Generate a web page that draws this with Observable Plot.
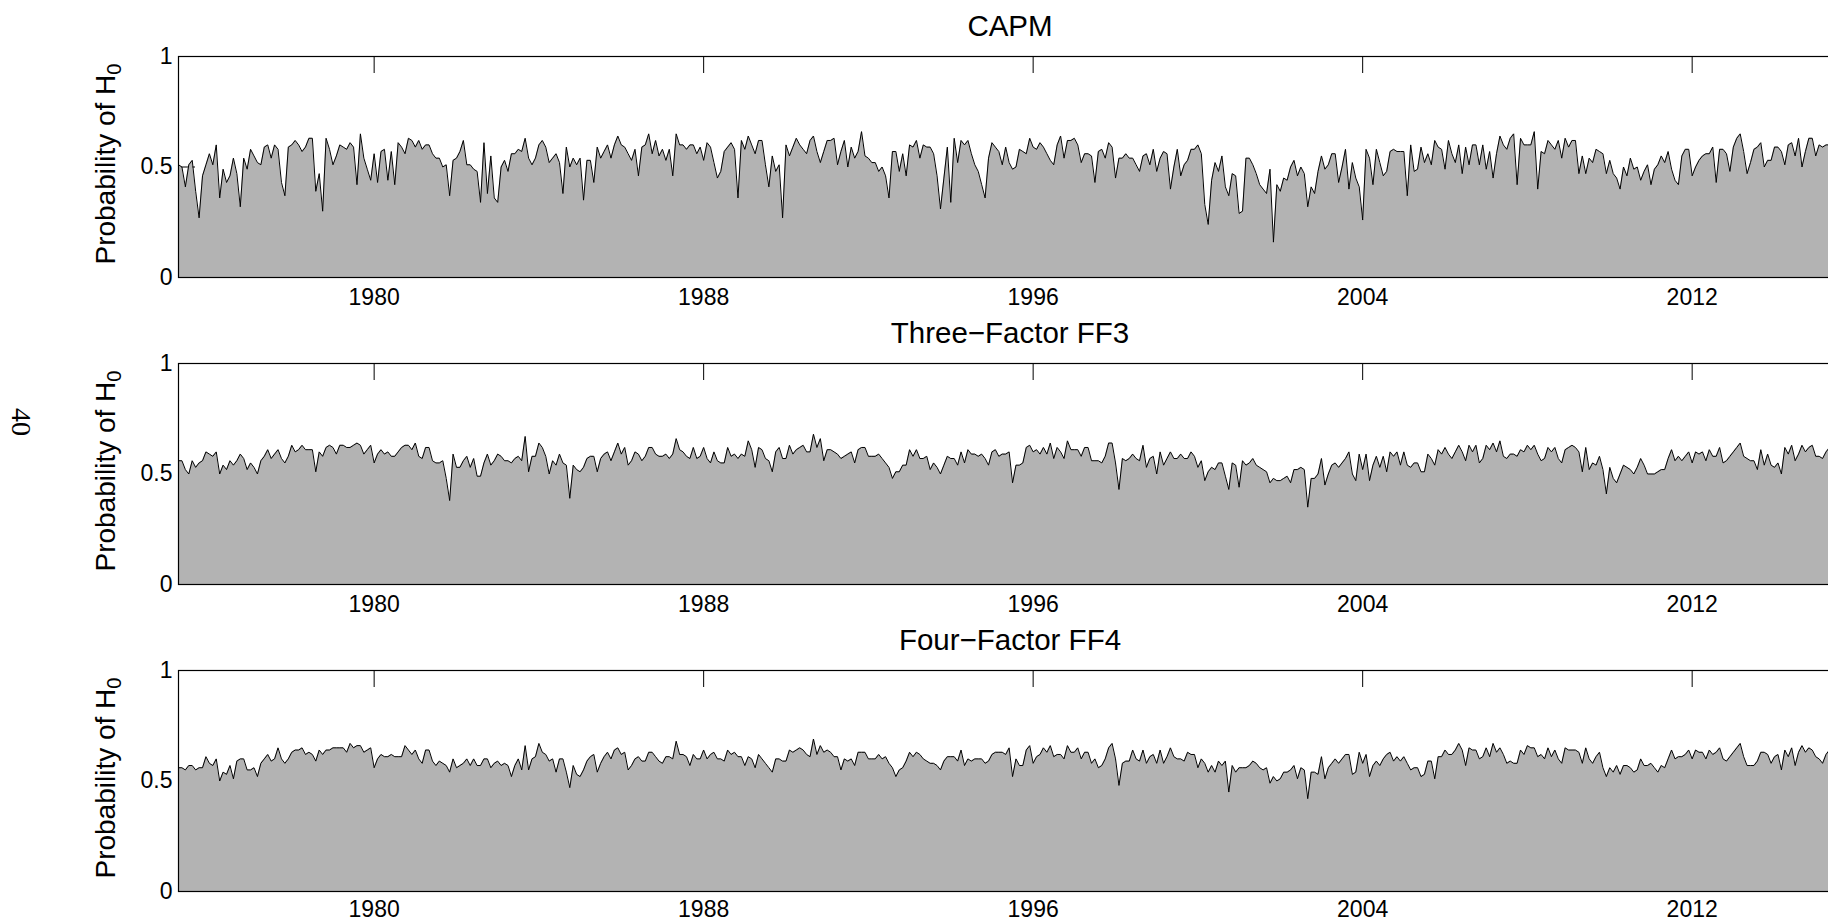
<!DOCTYPE html>
<html><head><meta charset="utf-8">
<script src="https://cdn.jsdelivr.net/npm/d3@7"></script>
<script src="https://cdn.jsdelivr.net/npm/@observablehq/plot@0.6"></script>
<style>
html,body{margin:0;padding:0;background:#fff;overflow:hidden;}
#root{position:relative;width:1828px;height:922px;overflow:hidden;font-family:"Liberation Sans",Arial,Helvetica,sans-serif;color:#000;}
.panel{position:absolute;left:0;}
.title{position:absolute;transform:translate(-50%,-50%);white-space:nowrap;font-size:29.5px;line-height:1;}
.ylab{position:absolute;transform:translate(-50%,-50%) rotate(-90deg);white-space:nowrap;font-size:28px;line-height:1;}
.ylab sub{font-size:0.72em;vertical-align:-0.3em;line-height:0;}
.pagenum{position:absolute;transform:translate(-50%,-50%) rotate(90deg);font-family:"Liberation Serif","Times New Roman",serif;font-size:28px;line-height:1;}
</style></head><body><div id="root"></div>
<script>
const startYear = 1975.25;          // first monthly observation (April 1975)
const xTicks = [1980, 1988, 1996, 2004, 2012];
const yTicks = [0, 0.5, 1];
const titles = ["CAPM", "Three\u2212Factor FF3", "Four\u2212Factor FF4"];
const yLabel = "Probability of H";
const yLabelSub = "0";
const pageNumber = "40";

const capm = [.51,.50,.41,.51,.53,.39,.27,.46,.51,.56,.51,.60,.36,.49,.43,.46,.54,.47,.32,.54,.49,.58,.55,.52,.51,.59,.60,.54,.60,.58,.43,.37,.59,.60,.62,.60,.57,.59,.63,.63,.39,.47,.30,.63,.58,.51,.55,.60,.59,.58,.61,.59,.42,.65,.54,.49,.44,.56,.43,.57,.58,.44,.57,.42,.61,.59,.56,.63,.62,.59,.62,.58,.60,.60,.56,.54,.54,.50,.51,.37,.53,.54,.57,.62,.51,.51,.49,.48,.34,.61,.38,.55,.36,.34,.50,.53,.48,.56,.56,.58,.57,.63,.54,.51,.54,.60,.62,.59,.52,.54,.56,.52,.38,.59,.50,
.54,.51,.54,.35,.53,.53,.43,.59,.54,.57,.60,.54,.60,.64,.60,.59,.56,.53,.58,.46,.59,.60,.65,.56,.62,.55,.58,.53,.58,.46,.65,.60,.60,.58,.60,.60,.56,.59,.53,.61,.59,.52,.45,.48,.57,.59,.61,.58,.36,.62,.58,.64,.60,.56,.62,.62,.51,.41,.55,.48,.51,.27,.60,.55,.59,.63,.60,.58,.56,.62,.64,.57,.52,.57,.62,.62,.63,.51,.57,.62,.50,.59,.54,.57,.66,.55,.54,.52,.52,.48,.50,.46,.36,.57,.57,.48,.56,.46,.60,.59,.62,.54,.60,.59,.59,.56,.46,.31,.45,.59,.34,.63,.52,.62,.60,.62,.56,.51,.48,
.42,.36,.54,.61,.59,.57,.51,.59,.52,.49,.50,.58,.57,.56,.63,.59,.58,.61,.59,.56,.53,.51,.60,.64,.54,.62,.62,.63,.60,.52,.56,.56,.55,.43,.57,.58,.54,.61,.59,.45,.54,.54,.56,.54,.54,.51,.48,.55,.56,.51,.58,.48,.54,.57,.56,.40,.50,.58,.46,.51,.53,.58,.58,.60,.56,.33,.24,.44,.52,.48,.55,.41,.37,.47,.46,.29,.30,.54,.54,.51,.47,.42,.40,.38,.49,.16,.42,.39,.45,.44,.50,.53,.46,.50,.47,.32,.41,.38,.48,.55,.49,.51,.56,.56,.43,.50,.58,.40,.52,.45,.41,.26,.58,.54,.42,.58,.52,.46,.48,.57,
.58,.57,.57,.57,.37,.60,.48,.49,.59,.52,.56,.51,.62,.59,.58,.49,.62,.56,.52,.60,.47,.59,.51,.60,.60,.51,.60,.49,.57,.45,.56,.64,.60,.58,.63,.65,.42,.63,.60,.60,.60,.66,.40,.57,.56,.62,.60,.58,.62,.54,.63,.59,.62,.62,.47,.55,.47,.54,.52,.58,.57,.56,.47,.53,.47,.45,.40,.50,.46,.54,.49,.50,.44,.48,.51,.42,.49,.51,.55,.52,.57,.49,.44,.42,.55,.58,.58,.46,.50,.53,.55,.56,.56,.59,.43,.58,.58,.56,.48,.59,.63,.65,.57,.47,.52,.58,.59,.61,.50,.53,.53,.59,.59,.57,.51,.60,.61,.55,.63,.50,.57,.63,.63,.55,.60,.59,.60,.60];

const ff3 = [.56,.56,.52,.50,.56,.53,.55,.56,.60,.59,.58,.60,.50,.54,.52,.56,.54,.56,.59,.57,.52,.55,.53,.50,.56,.58,.61,.57,.59,.61,.57,.55,.58,.63,.60,.61,.63,.61,.61,.61,.51,.60,.58,.62,.63,.62,.59,.63,.63,.62,.62,.63,.64,.63,.59,.61,.63,.55,.59,.61,.59,.60,.58,.58,.60,.62,.63,.63,.61,.64,.58,.57,.62,.62,.56,.55,.55,.56,.48,.38,.59,.53,.53,.56,.58,.53,.57,.49,.49,.55,.59,.54,.56,.59,.58,.56,.56,.55,.57,.58,.56,.67,.51,.58,.58,.64,.62,.58,.50,.56,.54,.59,.55,.54,.39,
.54,.52,.51,.53,.57,.58,.58,.51,.57,.59,.60,.56,.60,.64,.59,.62,.54,.56,.60,.59,.56,.58,.62,.62,.59,.58,.58,.59,.57,.59,.66,.61,.60,.58,.57,.62,.57,.58,.62,.57,.55,.60,.56,.55,.55,.62,.58,.59,.57,.59,.58,.65,.61,.53,.62,.61,.57,.56,.51,.60,.62,.57,.57,.63,.59,.61,.62,.63,.60,.60,.68,.62,.66,.56,.61,.61,.60,.59,.57,.58,.59,.60,.55,.61,.62,.62,.58,.58,.58,.59,.57,.55,.53,.48,.51,.51,.54,.54,.61,.58,.61,.57,.57,.58,.52,.55,.53,.50,.54,.58,.57,.57,.54,.60,.55,.61,.59,.59,.58,
.59,.57,.54,.60,.61,.58,.59,.59,.60,.46,.54,.54,.55,.62,.63,.60,.61,.59,.62,.59,.64,.57,.62,.60,.57,.65,.61,.61,.61,.58,.62,.62,.56,.56,.56,.55,.58,.64,.64,.55,.43,.57,.56,.57,.59,.57,.56,.63,.53,.57,.58,.50,.60,.54,.57,.60,.57,.57,.59,.57,.57,.60,.58,.53,.56,.47,.51,.53,.52,.55,.55,.49,.43,.55,.54,.44,.56,.54,.55,.57,.54,.53,.52,.51,.46,.48,.47,.47,.48,.49,.46,.52,.52,.53,.52,.35,.48,.48,.50,.57,.45,.50,.54,.55,.53,.55,.57,.60,.50,.47,.59,.52,.59,.47,.54,.58,.53,.58,.51,.60,
.58,.60,.54,.60,.54,.53,.55,.55,.51,.51,.59,.57,.54,.61,.59,.62,.59,.57,.60,.63,.60,.56,.63,.60,.63,.55,.57,.63,.61,.64,.60,.65,.58,.57,.59,.59,.58,.61,.60,.63,.61,.63,.59,.56,.57,.62,.60,.62,.57,.55,.61,.62,.63,.62,.60,.51,.62,.52,.55,.54,.58,.52,.41,.53,.48,.46,.50,.54,.53,.52,.50,.53,.57,.54,.50,.50,.50,.51,.52,.52,.57,.61,.56,.58,.56,.58,.60,.55,.60,.59,.60,.56,.61,.58,.58,.62,.55,.56,.58,.60,.62,.64,.58,.57,.56,.56,.52,.61,.54,.59,.54,.53,.55,.50,.62,.59,.63,.56,.59,.63,.60,.62,.63,.58,.58,.57,.60,.62];

const ff4 = [.56,.56,.55,.57,.57,.55,.56,.56,.61,.58,.57,.60,.50,.54,.53,.57,.51,.59,.60,.60,.55,.55,.56,.52,.58,.60,.62,.59,.60,.65,.60,.58,.60,.63,.64,.64,.65,.62,.63,.62,.59,.64,.62,.64,.64,.65,.65,.65,.65,.63,.67,.65,.66,.66,.63,.64,.65,.56,.60,.62,.61,.61,.62,.61,.61,.61,.66,.64,.62,.64,.60,.58,.64,.64,.59,.57,.59,.58,.57,.54,.60,.56,.57,.58,.60,.57,.60,.57,.57,.60,.60,.56,.58,.59,.57,.58,.57,.52,.57,.60,.55,.66,.55,.60,.61,.67,.63,.62,.59,.60,.54,.60,.60,.54,.47,
.57,.53,.52,.55,.59,.61,.62,.54,.58,.61,.63,.60,.64,.65,.62,.63,.55,.57,.60,.61,.59,.59,.63,.63,.61,.59,.58,.61,.61,.60,.68,.62,.62,.61,.57,.62,.60,.60,.64,.60,.62,.63,.60,.60,.59,.64,.62,.63,.61,.61,.57,.61,.60,.56,.62,.60,.58,.56,.54,.60,.60,.59,.59,.64,.63,.64,.65,.64,.62,.61,.69,.62,.66,.63,.64,.63,.61,.61,.55,.60,.59,.60,.57,.63,.63,.63,.60,.60,.60,.62,.60,.61,.58,.56,.52,.55,.56,.59,.63,.61,.63,.62,.60,.59,.58,.58,.57,.55,.59,.61,.61,.61,.59,.64,.57,.60,.59,.60,.60,
.60,.58,.59,.62,.63,.63,.63,.62,.65,.52,.60,.57,.57,.64,.66,.58,.61,.62,.65,.63,.66,.61,.62,.62,.60,.66,.63,.63,.65,.60,.63,.63,.58,.60,.56,.57,.60,.65,.67,.60,.48,.58,.59,.59,.64,.60,.59,.64,.58,.61,.62,.58,.64,.58,.61,.65,.61,.60,.60,.59,.63,.62,.62,.56,.60,.58,.54,.57,.54,.59,.57,.59,.45,.57,.54,.56,.56,.56,.57,.59,.58,.56,.55,.56,.49,.52,.50,.51,.54,.54,.55,.57,.51,.56,.55,.42,.54,.54,.53,.61,.51,.56,.58,.60,.58,.60,.62,.62,.53,.54,.63,.58,.62,.52,.57,.59,.57,.60,.62,.63,
.59,.61,.59,.61,.58,.55,.56,.56,.52,.53,.59,.59,.51,.61,.61,.64,.62,.62,.64,.67,.64,.57,.65,.64,.64,.60,.61,.65,.61,.67,.63,.65,.62,.58,.59,.58,.58,.64,.62,.66,.65,.65,.61,.62,.60,.65,.61,.64,.60,.58,.65,.64,.64,.64,.63,.58,.65,.60,.58,.61,.63,.56,.52,.56,.54,.57,.53,.57,.57,.56,.54,.55,.60,.57,.57,.58,.56,.54,.57,.56,.60,.64,.60,.61,.61,.62,.64,.60,.64,.63,.63,.60,.64,.62,.63,.65,.60,.59,.61,.63,.65,.67,.61,.57,.57,.57,.59,.63,.63,.62,.58,.61,.62,.55,.64,.61,.65,.57,.63,.66,.63,.65,.64,.61,.60,.58,.62,.64];

const series = [capm, ff3, ff4];

// layout (styling only)
const W = 1850, ML = 178, MR = 8, MT = 2, IH = 221, MB = 46, H = MT + IH + MB;
const IW = W - ML - MR;
const panelTops = [56, 363, 670];
const labelPads = [11, 11, 9];
const tickLen = 17;
const xDomain = [1975.25, 2015.65];
const font = '"Liberation Sans", Arial, Helvetica, sans-serif';

const root = document.getElementById("root");

series.forEach((vals, k) => {
  const data = vals.map((v, i) => ({x: startYear + i / 12, y: v}));
  const chart = Plot.plot({
    width: W, height: H,
    marginLeft: ML, marginRight: MR, marginTop: MT, marginBottom: MB,
    style: {fontFamily: font, fontSize: "23px", maxWidth: "none", background: "transparent", overflow: "visible", color: "black"},
    x: {domain: xDomain},
    y: {domain: [0, 1]},
    marks: [
      Plot.tickX(xTicks, {x: d => d, insetBottom: IH - tickLen, stroke: "black", strokeWidth: 1}),
      Plot.tickY([0.5], {y: d => d, insetRight: IW - tickLen, stroke: "black", strokeWidth: 1}),
      Plot.areaY(data, {x: "x", y: "y", fill: "#b3b3b3"}),
      Plot.lineY(data, {x: "x", y: "y", stroke: "black", strokeWidth: 1}),
      Plot.frame({stroke: "black", strokeWidth: 1.2}),
      Plot.axisX(xTicks, {anchor: "bottom", tickSize: 0, tickPadding: labelPads[k], tickFormat: d => String(d), label: null, fontSize: 23}),
      Plot.axisY(yTicks, {anchor: "left", tickSize: 0, tickPadding: 6, tickFormat: d => String(d), label: null, fontSize: 23})
    ]
  });
  const wrap = document.createElement("div");
  wrap.className = "panel";
  wrap.style.top = (panelTops[k] - MT) + "px";
  wrap.appendChild(chart);
  root.appendChild(wrap);

  const t = document.createElement("div");
  t.className = "title";
  t.textContent = titles[k];
  t.style.left = (ML + IW / 2) + "px";
  t.style.top = (panelTops[k] - 30) + "px";
  root.appendChild(t);

  const yl = document.createElement("div");
  yl.className = "ylab";
  yl.innerHTML = yLabel + "<sub>" + yLabelSub + "</sub>";
  yl.style.left = "106px";
  yl.style.top = (panelTops[k] + IH / 2 - 3) + "px";
  root.appendChild(yl);
});

const pn = document.createElement("div");
pn.className = "pagenum";
pn.textContent = pageNumber;
pn.style.left = "21px";
pn.style.top = "422px";
root.appendChild(pn);
</script></body></html>
